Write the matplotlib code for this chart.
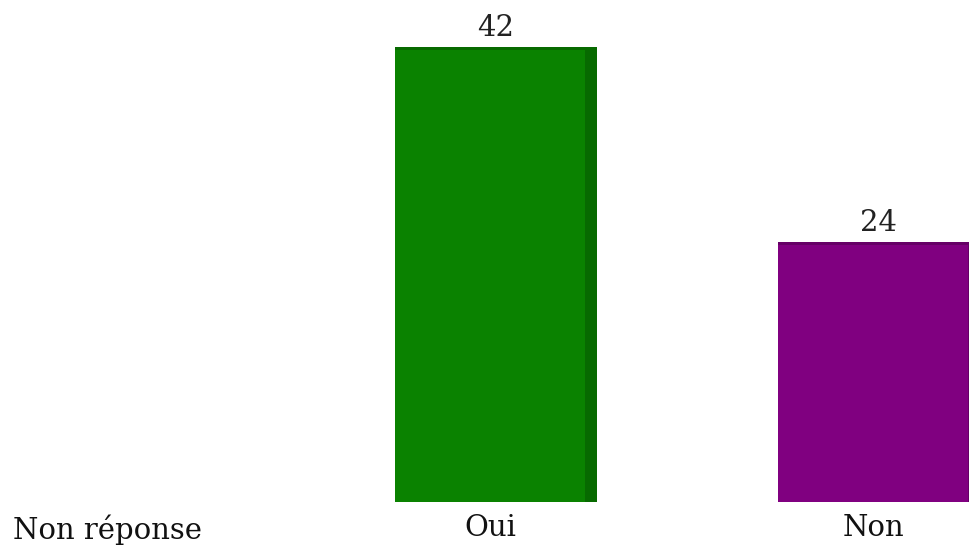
import matplotlib.pyplot as plt

categories = ["Non réponse", "Oui", "Non"]
values = [0, 42, 24]
colors = ["#1f3fbf", "#0a8200", "#800080"]
side_colors = ["#14307f", "#076a00", "#660066"]

plt.rcParams['font.family'] = ['DejaVu Serif']

fig = plt.figure(figsize=(9.7, 5.45), dpi=100)
ax = fig.add_axes([0, 0.079, 1, 0.894])

x = list(range(len(categories)))
front_w = 0.496
side_w = 0.031
left = [i - front_w / 2 for i in x]

# darker block behind the front face gives the 3D side
ax.bar([l + side_w for l in left], values, width=front_w,
       align='edge', color=side_colors, linewidth=0)
ax.bar(left, values, width=front_w, align='edge', color=colors, linewidth=0)
# thin darker top edge
ax.bar(left, [0.25 if v > 0 else 0 for v in values], width=front_w + side_w,
       bottom=[v - 0.25 for v in values], align='edge', color=side_colors,
       linewidth=0)

for i, v in zip(x, values):
    if v > 0:
        ax.text(i + 0.015, v + 0.5, str(v), ha='center', va='bottom',
                fontsize=21, color='#222222')

ax.set_xlim(-0.2794, 2.2533)
ax.set_ylim(0, 45)
ax.set_xticks(x)
ax.set_xticklabels(categories, fontsize=21, color='#111111')
ax.tick_params(axis='x', length=0, pad=9)
ax.set_yticks([])
for s in ax.spines.values():
    s.set_visible(False)

fig.savefig("out.png", dpi=100)
